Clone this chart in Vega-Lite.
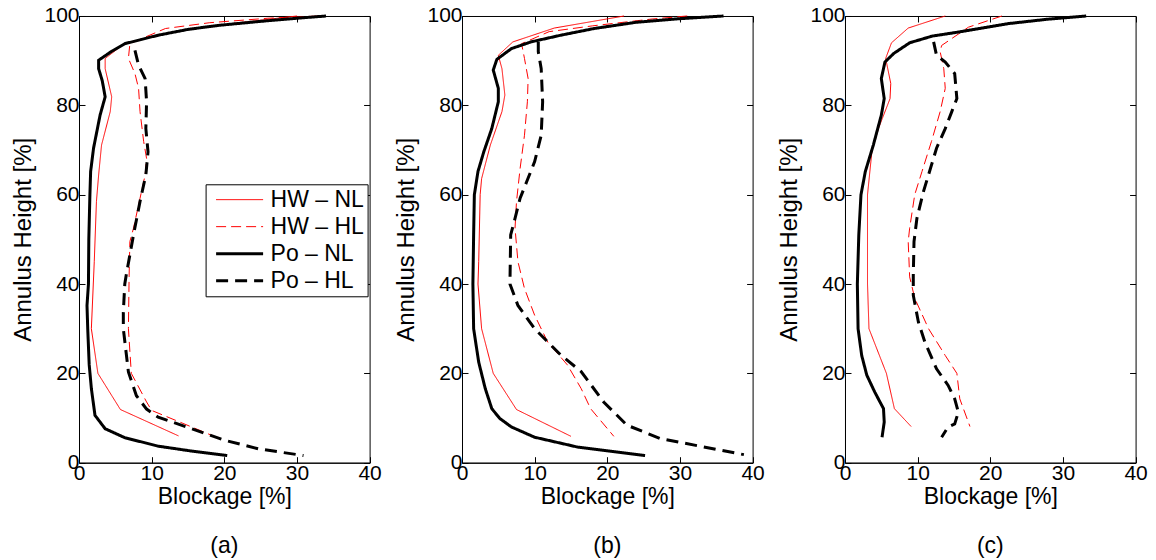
{
  "$schema": "https://vega.github.io/schema/vega-lite/v6.json",
  "padding": {"left": 11, "top": 4, "right": 0, "bottom": 0},
  "bounds": "flush",
  "spacing": 92,
  "config": {
    "font": "Liberation Sans",
    "view": {"stroke": "black", "strokeWidth": 1},
    "axis": {"labelFontSize": 21, "titleFontSize": 23, "titleFontWeight": "normal", "labelColor": "black", "titleColor": "black", "domainColor": "black", "tickColor": "black", "grid": false, "tickSize": -6, "labelPadding": 6, "labelFlush": false, "labelOverlap": false},
    "title": {"fontSize": 23, "fontWeight": "normal", "color": "black"}
  },
  "data": {"values": [
    {"p":"a","s":"HW – NL","x":30,"y":100},{"p":"a","s":"HW – NL","x":22,"y":98.5},{"p":"a","s":"HW – NL","x":15,"y":97},{"p":"a","s":"HW – NL","x":10,"y":95.5},{"p":"a","s":"HW – NL","x":6,"y":93.5},{"p":"a","s":"HW – NL","x":3.6,"y":90.5},{"p":"a","s":"HW – NL","x":3.6,"y":88.2},{"p":"a","s":"HW – NL","x":4.5,"y":81.9},{"p":"a","s":"HW – NL","x":4.3,"y":78.6},{"p":"a","s":"HW – NL","x":3.1,"y":71.1},{"p":"a","s":"HW – NL","x":2.7,"y":64.4},{"p":"a","s":"HW – NL","x":2.4,"y":58.5},{"p":"a","s":"HW – NL","x":2.1,"y":45},{"p":"a","s":"HW – NL","x":1.7,"y":30},{"p":"a","s":"HW – NL","x":2.6,"y":20},{"p":"a","s":"HW – NL","x":5.7,"y":11.9},{"p":"a","s":"HW – NL","x":13.7,"y":6},
    {"p":"a","s":"HW – HL","x":33,"y":100},{"p":"a","s":"HW – HL","x":26,"y":99.5},{"p":"a","s":"HW – HL","x":18,"y":98.5},{"p":"a","s":"HW – HL","x":11.9,"y":97.2},{"p":"a","s":"HW – HL","x":7.7,"y":94.3},{"p":"a","s":"HW – HL","x":7.0,"y":93.8},{"p":"a","s":"HW – HL","x":6.8,"y":90.5},{"p":"a","s":"HW – HL","x":7.7,"y":87.1},{"p":"a","s":"HW – HL","x":8.2,"y":83.8},{"p":"a","s":"HW – HL","x":8.4,"y":78.6},{"p":"a","s":"HW – HL","x":8.9,"y":71.9},{"p":"a","s":"HW – HL","x":9.3,"y":68.1},{"p":"a","s":"HW – HL","x":9.1,"y":64.4},{"p":"a","s":"HW – HL","x":8.4,"y":59.2},{"p":"a","s":"HW – HL","x":7.5,"y":52.5},{"p":"a","s":"HW – HL","x":7.0,"y":49.5},{"p":"a","s":"HW – HL","x":6.9,"y":42},{"p":"a","s":"HW – HL","x":6.8,"y":30},{"p":"a","s":"HW – HL","x":7.2,"y":20},{"p":"a","s":"HW – HL","x":9.3,"y":13.6},{"p":"a","s":"HW – HL","x":10,"y":11.7},{"p":"a","s":"HW – HL","x":15.5,"y":8},{"p":"a","s":"HW – HL","x":18.3,"y":6.1},
    {"p":"a","s":"Po – NL","x":34,"y":100},{"p":"a","s":"Po – NL","x":30,"y":99.5},{"p":"a","s":"Po – NL","x":25,"y":98.8},{"p":"a","s":"Po – NL","x":19.2,"y":97.9},{"p":"a","s":"Po – NL","x":15,"y":97},{"p":"a","s":"Po – NL","x":10.9,"y":95.7},{"p":"a","s":"Po – NL","x":6.3,"y":93.8},{"p":"a","s":"Po – NL","x":4.5,"y":92.1},{"p":"a","s":"Po – NL","x":2.7,"y":90.1},{"p":"a","s":"Po – NL","x":2.7,"y":88.2},{"p":"a","s":"Po – NL","x":3.2,"y":85.5},{"p":"a","s":"Po – NL","x":3.6,"y":81.9},{"p":"a","s":"Po – NL","x":2.9,"y":77.8},{"p":"a","s":"Po – NL","x":2.0,"y":70.4},{"p":"a","s":"Po – NL","x":1.6,"y":65.2},{"p":"a","s":"Po – NL","x":1.5,"y":60},{"p":"a","s":"Po – NL","x":1.35,"y":50},{"p":"a","s":"Po – NL","x":1.3,"y":40},{"p":"a","s":"Po – NL","x":1.1,"y":35.2},{"p":"a","s":"Po – NL","x":1.2,"y":30},{"p":"a","s":"Po – NL","x":1.4,"y":22},{"p":"a","s":"Po – NL","x":1.7,"y":16.6},{"p":"a","s":"Po – NL","x":2.2,"y":10.6},{"p":"a","s":"Po – NL","x":3.6,"y":7.6},{"p":"a","s":"Po – NL","x":6.3,"y":5.6},{"p":"a","s":"Po – NL","x":10.9,"y":3.7},{"p":"a","s":"Po – NL","x":15.5,"y":2.6},{"p":"a","s":"Po – NL","x":20.4,"y":1.6},
    {"p":"a","s":"Po – HL","x":7.7,"y":92.3},{"p":"a","s":"Po – HL","x":8.2,"y":89},{"p":"a","s":"Po – HL","x":9.1,"y":86},{"p":"a","s":"Po – HL","x":9.3,"y":80.8},{"p":"a","s":"Po – HL","x":9.2,"y":74.8},{"p":"a","s":"Po – HL","x":9.5,"y":69.6},{"p":"a","s":"Po – HL","x":9.2,"y":64.4},{"p":"a","s":"Po – HL","x":8.4,"y":58.5},{"p":"a","s":"Po – HL","x":7.5,"y":51},{"p":"a","s":"Po – HL","x":6.5,"y":42},{"p":"a","s":"Po – HL","x":6.3,"y":40},{"p":"a","s":"Po – HL","x":6.1,"y":33.7},{"p":"a","s":"Po – HL","x":6.1,"y":30},{"p":"a","s":"Po – HL","x":6.8,"y":20.3},{"p":"a","s":"Po – HL","x":7.9,"y":15},{"p":"a","s":"Po – HL","x":9.3,"y":12},{"p":"a","s":"Po – HL","x":10.9,"y":10.2},{"p":"a","s":"Po – HL","x":15.5,"y":7.6},{"p":"a","s":"Po – HL","x":20.1,"y":5},{"p":"a","s":"Po – HL","x":24.7,"y":3.1},{"p":"a","s":"Po – HL","x":30.9,"y":1.6},
    {"p":"b","s":"HW – NL","x":22.3,"y":100},{"p":"b","s":"HW – NL","x":12.7,"y":97.3},{"p":"b","s":"HW – NL","x":7.0,"y":94.2},{"p":"b","s":"HW – NL","x":5,"y":91.2},{"p":"b","s":"HW – NL","x":5.5,"y":88.2},{"p":"b","s":"HW – NL","x":5.9,"y":82.3},{"p":"b","s":"HW – NL","x":5.5,"y":78.6},{"p":"b","s":"HW – NL","x":3.9,"y":71.1},{"p":"b","s":"HW – NL","x":2.7,"y":63.6},{"p":"b","s":"HW – NL","x":2.5,"y":60},{"p":"b","s":"HW – NL","x":2.3,"y":45},{"p":"b","s":"HW – NL","x":2.2,"y":40},{"p":"b","s":"HW – NL","x":2.7,"y":30},{"p":"b","s":"HW – NL","x":4.3,"y":20},{"p":"b","s":"HW – NL","x":7.5,"y":11.9},{"p":"b","s":"HW – NL","x":15,"y":5.9},
    {"p":"b","s":"HW – HL","x":31,"y":100},{"p":"b","s":"HW – HL","x":26,"y":99.3},{"p":"b","s":"HW – HL","x":18,"y":97.8},{"p":"b","s":"HW – HL","x":12,"y":96.5},{"p":"b","s":"HW – HL","x":8.2,"y":93.8},{"p":"b","s":"HW – HL","x":8.6,"y":90.5},{"p":"b","s":"HW – HL","x":9.1,"y":86},{"p":"b","s":"HW – HL","x":9.0,"y":80.8},{"p":"b","s":"HW – HL","x":8.6,"y":73.3},{"p":"b","s":"HW – HL","x":8.0,"y":65.9},{"p":"b","s":"HW – HL","x":7.5,"y":58.4},{"p":"b","s":"HW – HL","x":7.3,"y":52.5},{"p":"b","s":"HW – HL","x":7.7,"y":45},{"p":"b","s":"HW – HL","x":8.6,"y":39},{"p":"b","s":"HW – HL","x":10,"y":33},{"p":"b","s":"HW – HL","x":11.8,"y":27},{"p":"b","s":"HW – HL","x":14.5,"y":21.9},{"p":"b","s":"HW – HL","x":16.4,"y":16.6},{"p":"b","s":"HW – HL","x":17.7,"y":12.1},{"p":"b","s":"HW – HL","x":20.9,"y":5.9},
    {"p":"b","s":"Po – NL","x":36,"y":100},{"p":"b","s":"Po – NL","x":30,"y":99.4},{"p":"b","s":"Po – NL","x":24,"y":98.6},{"p":"b","s":"Po – NL","x":18.2,"y":97.2},{"p":"b","s":"Po – NL","x":13.6,"y":95.7},{"p":"b","s":"Po – NL","x":9.5,"y":94.2},{"p":"b","s":"Po – NL","x":6.8,"y":92.7},{"p":"b","s":"Po – NL","x":4.8,"y":90.3},{"p":"b","s":"Po – NL","x":4.3,"y":87.9},{"p":"b","s":"Po – NL","x":5,"y":83.8},{"p":"b","s":"Po – NL","x":5,"y":80.8},{"p":"b","s":"Po – NL","x":4.1,"y":74.8},{"p":"b","s":"Po – NL","x":3,"y":69.6},{"p":"b","s":"Po – NL","x":2.2,"y":65.2},{"p":"b","s":"Po – NL","x":1.7,"y":60},{"p":"b","s":"Po – NL","x":1.6,"y":51},{"p":"b","s":"Po – NL","x":1.5,"y":40},{"p":"b","s":"Po – NL","x":1.6,"y":30},{"p":"b","s":"Po – NL","x":2.3,"y":22.5},{"p":"b","s":"Po – NL","x":3.2,"y":16.6},{"p":"b","s":"Po – NL","x":4.1,"y":12.1},{"p":"b","s":"Po – NL","x":5.2,"y":9.9},{"p":"b","s":"Po – NL","x":6.8,"y":8},{"p":"b","s":"Po – NL","x":10,"y":5.7},{"p":"b","s":"Po – NL","x":15.9,"y":3.5},{"p":"b","s":"Po – NL","x":25.2,"y":1.6},
    {"p":"b","s":"Po – HL","x":10.5,"y":94.2},{"p":"b","s":"Po – HL","x":10.5,"y":92},{"p":"b","s":"Po – HL","x":10.9,"y":88.2},{"p":"b","s":"Po – HL","x":11.1,"y":80.8},{"p":"b","s":"Po – HL","x":10.9,"y":73.3},{"p":"b","s":"Po – HL","x":10,"y":67.4},{"p":"b","s":"Po – HL","x":8.9,"y":62.9},{"p":"b","s":"Po – HL","x":8,"y":59.2},{"p":"b","s":"Po – HL","x":7.3,"y":54.7},{"p":"b","s":"Po – HL","x":6.7,"y":51},{"p":"b","s":"Po – HL","x":6.6,"y":40},{"p":"b","s":"Po – HL","x":7.7,"y":35.2},{"p":"b","s":"Po – HL","x":10,"y":30},{"p":"b","s":"Po – HL","x":13.6,"y":24.1},{"p":"b","s":"Po – HL","x":16.4,"y":20.4},{"p":"b","s":"Po – HL","x":19.5,"y":13.6},{"p":"b","s":"Po – HL","x":22.7,"y":8.4},{"p":"b","s":"Po – HL","x":27.3,"y":5.4},{"p":"b","s":"Po – HL","x":38.8,"y":1.8},
    {"p":"c","s":"HW – NL","x":13.8,"y":100},{"p":"c","s":"HW – NL","x":8.7,"y":97.3},{"p":"c","s":"HW – NL","x":6.4,"y":94},{"p":"c","s":"HW – NL","x":5.6,"y":90.5},{"p":"c","s":"HW – NL","x":6.3,"y":84.9},{"p":"c","s":"HW – NL","x":6.2,"y":81.5},{"p":"c","s":"HW – NL","x":4.6,"y":74.8},{"p":"c","s":"HW – NL","x":3.7,"y":69.6},{"p":"c","s":"HW – NL","x":3.1,"y":60},{"p":"c","s":"HW – NL","x":3.1,"y":40},{"p":"c","s":"HW – NL","x":3.3,"y":30},{"p":"c","s":"HW – NL","x":5.7,"y":20},{"p":"c","s":"HW – NL","x":6.8,"y":12.1},{"p":"c","s":"HW – NL","x":9.1,"y":8.1},
    {"p":"c","s":"HW – HL","x":21.6,"y":100},{"p":"c","s":"HW – HL","x":17,"y":97.5},{"p":"c","s":"HW – HL","x":13.3,"y":93.4},{"p":"c","s":"HW – HL","x":13.1,"y":92},{"p":"c","s":"HW – HL","x":13.6,"y":88.2},{"p":"c","s":"HW – HL","x":13.8,"y":83.8},{"p":"c","s":"HW – HL","x":13.1,"y":78.6},{"p":"c","s":"HW – HL","x":11.9,"y":71.9},{"p":"c","s":"HW – HL","x":10.6,"y":65.2},{"p":"c","s":"HW – HL","x":9.6,"y":60},{"p":"c","s":"HW – HL","x":8.9,"y":52.5},{"p":"c","s":"HW – HL","x":8.7,"y":49.5},{"p":"c","s":"HW – HL","x":8.9,"y":41.6},{"p":"c","s":"HW – HL","x":9.6,"y":36.8},{"p":"c","s":"HW – HL","x":11.5,"y":30},{"p":"c","s":"HW – HL","x":13.8,"y":24},{"p":"c","s":"HW – HL","x":15.4,"y":20},{"p":"c","s":"HW – HL","x":15.8,"y":14.3},{"p":"c","s":"HW – HL","x":17.2,"y":8.1},
    {"p":"c","s":"Po – NL","x":33.2,"y":100},{"p":"c","s":"Po – NL","x":28,"y":99.3},{"p":"c","s":"Po – NL","x":22.5,"y":98.3},{"p":"c","s":"Po – NL","x":15.6,"y":96.4},{"p":"c","s":"Po – NL","x":12,"y":95.5},{"p":"c","s":"Po – NL","x":8.9,"y":94},{"p":"c","s":"Po – NL","x":6.7,"y":91.6},{"p":"c","s":"Po – NL","x":5.5,"y":89.7},{"p":"c","s":"Po – NL","x":5,"y":86},{"p":"c","s":"Po – NL","x":5.4,"y":81.5},{"p":"c","s":"Po – NL","x":5,"y":77.8},{"p":"c","s":"Po – NL","x":3.9,"y":71.1},{"p":"c","s":"Po – NL","x":2.8,"y":65.2},{"p":"c","s":"Po – NL","x":2.2,"y":60},{"p":"c","s":"Po – NL","x":1.9,"y":51},{"p":"c","s":"Po – NL","x":1.7,"y":40},{"p":"c","s":"Po – NL","x":1.8,"y":30},{"p":"c","s":"Po – NL","x":2.3,"y":24},{"p":"c","s":"Po – NL","x":3,"y":19.6},{"p":"c","s":"Po – NL","x":4.1,"y":15.8},{"p":"c","s":"Po – NL","x":5.3,"y":12.1},{"p":"c","s":"Po – NL","x":5.4,"y":9.1},{"p":"c","s":"Po – NL","x":5.1,"y":5.7},
    {"p":"c","s":"Po – HL","x":12.2,"y":94.2},{"p":"c","s":"Po – HL","x":12.6,"y":91.2},{"p":"c","s":"Po – HL","x":13.8,"y":89.7},{"p":"c","s":"Po – HL","x":15.1,"y":87.1},{"p":"c","s":"Po – HL","x":15.4,"y":81.5},{"p":"c","s":"Po – HL","x":14.7,"y":78.6},{"p":"c","s":"Po – HL","x":13.8,"y":74.8},{"p":"c","s":"Po – HL","x":12.6,"y":70.4},{"p":"c","s":"Po – HL","x":11.9,"y":66.6},{"p":"c","s":"Po – HL","x":10.8,"y":60.7},{"p":"c","s":"Po – HL","x":9.9,"y":54.7},{"p":"c","s":"Po – HL","x":9.5,"y":49.5},{"p":"c","s":"Po – HL","x":9.4,"y":42},{"p":"c","s":"Po – HL","x":9.4,"y":37.5},{"p":"c","s":"Po – HL","x":10.1,"y":31.5},{"p":"c","s":"Po – HL","x":11,"y":27},{"p":"c","s":"Po – HL","x":12.6,"y":21},{"p":"c","s":"Po – HL","x":14.2,"y":17.3},{"p":"c","s":"Po – HL","x":15.1,"y":14.3},{"p":"c","s":"Po – HL","x":15.6,"y":11.3},{"p":"c","s":"Po – HL","x":15.1,"y":8.7},{"p":"c","s":"Po – HL","x":14.2,"y":8},{"p":"c","s":"Po – HL","x":13.3,"y":5.7}
  ]},
  "hconcat": [
    {
      "width": 290.6, "height": 446.7,
      "title": {"text": "(a)", "orient": "bottom", "offset": 26},
      "transform": [{"filter": "datum.p == 'a'"}],
      "layer": [
        {"mark": {"type": "line"},
         "encoding": {
           "x": {"field": "x", "type": "quantitative", "scale": {"domain": [0, 40]}, "axis": {"values": [0,10,20,30,40], "title": "Blockage [%]", "titlePadding": 2}},
           "y": {"field": "y", "type": "quantitative", "scale": {"domain": [0, 100]}, "axis": {"values": [0,20,40,60,80,100], "title": "Annulus Height [%]", "titlePadding": 8, "titleFontSize": 24}},
           "order": {"field": "y", "sort": "descending"},
           "color": {"field": "s", "type": "nominal", "scale": {"domain": ["HW – NL","HW – HL","Po – NL","Po – HL"], "range": ["#ff0000","#ff0000","#000000","#000000"]},
             "legend": {"orient": "none", "legendX": 126.6, "legendY": 168.3, "title": null, "symbolType": "stroke", "symbolSize": 2209, "clipHeight": 24.7, "rowPadding": 2, "labelFontSize": 23, "labelOffset": 6, "padding": 3, "symbolOffset": 6, "strokeColor": "black", "fillColor": "white", "labelColor": "black", "labelFont": "Liberation Sans"}},
           "strokeDash": {"field": "s", "type": "nominal", "scale": {"domain": ["HW – NL","HW – HL","Po – NL","Po – HL"], "range": [[1,0],[10,5],[1,0],[12,7]]}},
           "strokeWidth": {"field": "s", "type": "ordinal", "scale": {"type": "ordinal", "domain": ["HW – NL","HW – HL","Po – NL","Po – HL"], "range": [1,1,3,3]}}
         }},
        {"mark": {"type": "line", "strokeOpacity": 0},
         "encoding": {
           "x": {"field": "x", "type": "quantitative", "scale": {"domain": [0, 40]}, "axis": {"orient": "top", "values": [0,10,20,30,40], "labels": false, "title": null, "domain": false}},
           "y": {"field": "y", "type": "quantitative", "scale": {"domain": [0, 100]}, "axis": {"orient": "right", "values": [0,20,40,60,80,100], "labels": false, "title": null, "domain": false}},
           "detail": {"field": "s"},
           "order": {"field": "y", "sort": "descending"}
         }}
      ],
      "resolve": {"axis": {"x": "independent", "y": "independent"}}
    },
    {
      "width": 290.6, "height": 446.7,
      "title": {"text": "(b)", "orient": "bottom", "offset": 26},
      "transform": [{"filter": "datum.p == 'b'"}],
      "layer": [
        {"mark": {"type": "line"},
         "encoding": {
           "x": {"field": "x", "type": "quantitative", "scale": {"domain": [0, 40]}, "axis": {"values": [0,10,20,30,40], "title": "Blockage [%]", "titlePadding": 2}},
           "y": {"field": "y", "type": "quantitative", "scale": {"domain": [0, 100]}, "axis": {"values": [0,20,40,60,80,100], "title": "Annulus Height [%]", "titlePadding": 8, "titleFontSize": 24}},
           "order": {"field": "y", "sort": "descending"},
           "color": {"field": "s", "type": "nominal", "scale": {"domain": ["HW – NL","HW – HL","Po – NL","Po – HL"], "range": ["#ff0000","#ff0000","#000000","#000000"]}, "legend": null},
           "strokeDash": {"field": "s", "type": "nominal", "scale": {"domain": ["HW – NL","HW – HL","Po – NL","Po – HL"], "range": [[1,0],[10,5],[1,0],[12,7]]}, "legend": null},
           "strokeWidth": {"field": "s", "type": "ordinal", "scale": {"type": "ordinal", "domain": ["HW – NL","HW – HL","Po – NL","Po – HL"], "range": [1,1,3,3]}, "legend": null}
         }},
        {"mark": {"type": "line", "strokeOpacity": 0},
         "encoding": {
           "x": {"field": "x", "type": "quantitative", "scale": {"domain": [0, 40]}, "axis": {"orient": "top", "values": [0,10,20,30,40], "labels": false, "title": null, "domain": false}},
           "y": {"field": "y", "type": "quantitative", "scale": {"domain": [0, 100]}, "axis": {"orient": "right", "values": [0,20,40,60,80,100], "labels": false, "title": null, "domain": false}},
           "detail": {"field": "s"},
           "order": {"field": "y", "sort": "descending"}
         }}
      ],
      "resolve": {"axis": {"x": "independent", "y": "independent"}}
    },
    {
      "width": 290.6, "height": 446.7,
      "title": {"text": "(c)", "orient": "bottom", "offset": 26},
      "transform": [{"filter": "datum.p == 'c'"}],
      "layer": [
        {"mark": {"type": "line"},
         "encoding": {
           "x": {"field": "x", "type": "quantitative", "scale": {"domain": [0, 40]}, "axis": {"values": [0,10,20,30,40], "title": "Blockage [%]", "titlePadding": 2}},
           "y": {"field": "y", "type": "quantitative", "scale": {"domain": [0, 100]}, "axis": {"values": [0,20,40,60,80,100], "title": "Annulus Height [%]", "titlePadding": 8, "titleFontSize": 24}},
           "order": {"field": "y", "sort": "descending"},
           "color": {"field": "s", "type": "nominal", "scale": {"domain": ["HW – NL","HW – HL","Po – NL","Po – HL"], "range": ["#ff0000","#ff0000","#000000","#000000"]}, "legend": null},
           "strokeDash": {"field": "s", "type": "nominal", "scale": {"domain": ["HW – NL","HW – HL","Po – NL","Po – HL"], "range": [[1,0],[10,5],[1,0],[12,7]]}, "legend": null},
           "strokeWidth": {"field": "s", "type": "ordinal", "scale": {"type": "ordinal", "domain": ["HW – NL","HW – HL","Po – NL","Po – HL"], "range": [1,1,3,3]}, "legend": null}
         }},
        {"mark": {"type": "line", "strokeOpacity": 0},
         "encoding": {
           "x": {"field": "x", "type": "quantitative", "scale": {"domain": [0, 40]}, "axis": {"orient": "top", "values": [0,10,20,30,40], "labels": false, "title": null, "domain": false}},
           "y": {"field": "y", "type": "quantitative", "scale": {"domain": [0, 100]}, "axis": {"orient": "right", "values": [0,20,40,60,80,100], "labels": false, "title": null, "domain": false}},
           "detail": {"field": "s"},
           "order": {"field": "y", "sort": "descending"}
         }}
      ],
      "resolve": {"axis": {"x": "independent", "y": "independent"}}
    }
  ]
}
